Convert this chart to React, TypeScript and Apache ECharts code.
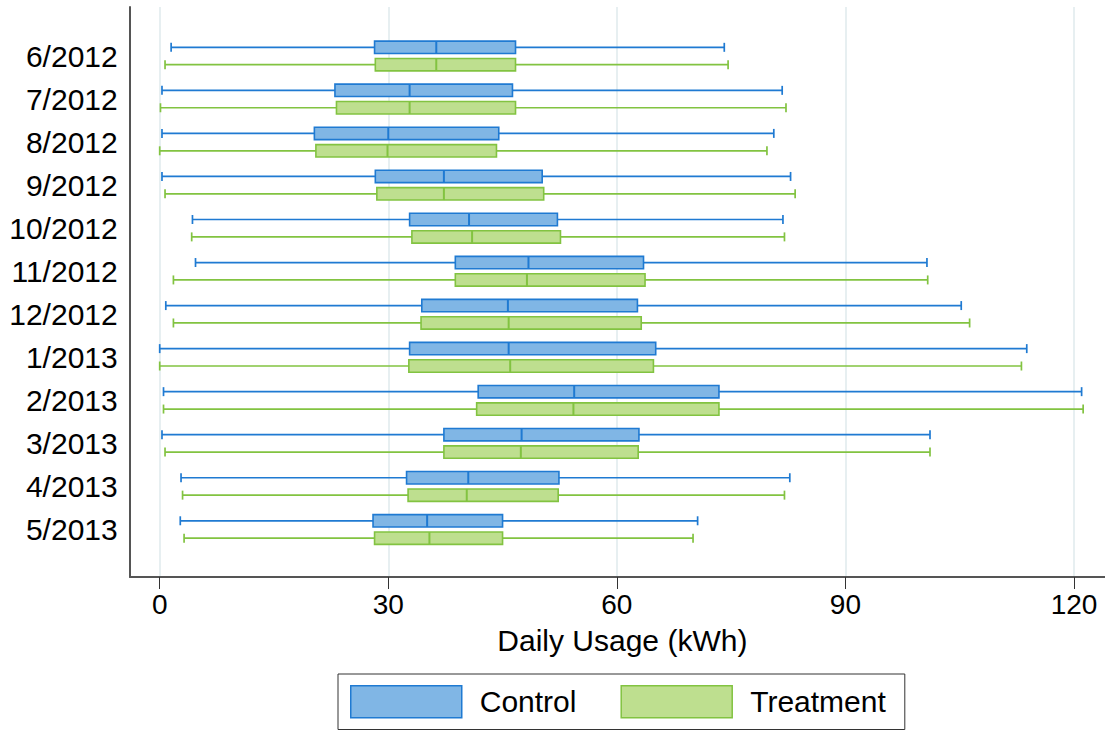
import React, { useEffect, useRef } from 'react';
import * as echarts from 'echarts';

const categories = ['6/2012', '7/2012', '8/2012', '9/2012', '10/2012', '11/2012', '12/2012', '1/2013', '2/2013', '3/2013', '4/2013', '5/2013'];
const xTicks = [0, 30, 60, 90, 120];

const controlMin = [1.5, 0.3, 0.3, 0.3, 4.3, 4.7, 0.8, 0.0, 0.5, 0.3, 2.8, 2.7];
const controlQ1 = [28.2, 23.0, 20.3, 28.3, 32.8, 38.8, 34.4, 32.8, 41.8, 37.3, 32.4, 28.0];
const controlMedian = [36.3, 32.8, 30.0, 37.3, 40.6, 48.4, 45.7, 45.8, 54.4, 47.5, 40.5, 35.1];
const controlQ3 = [46.7, 46.3, 44.5, 50.2, 52.2, 63.5, 62.7, 65.1, 73.4, 62.9, 52.4, 45.0];
const controlMax = [74.1, 81.7, 80.6, 82.8, 81.8, 100.7, 105.2, 113.8, 121.0, 101.1, 82.7, 70.6];

const treatmentMin = [0.7, 0.1, 0.0, 0.7, 4.2, 1.8, 1.8, 0.0, 0.5, 0.7, 3.0, 3.2];
const treatmentQ1 = [28.3, 23.2, 20.5, 28.5, 33.1, 38.8, 34.3, 32.7, 41.6, 37.3, 32.6, 28.2];
const treatmentMedian = [36.3, 32.8, 29.9, 37.3, 41.0, 48.2, 45.8, 46.0, 54.3, 47.4, 40.3, 35.4];
const treatmentQ3 = [46.7, 46.7, 44.2, 50.4, 52.6, 63.7, 63.2, 64.8, 73.4, 62.8, 52.3, 45.0];
const treatmentMax = [74.6, 82.2, 79.7, 83.4, 82.0, 100.8, 106.3, 113.1, 121.2, 101.1, 82.0, 70.0];

const FONT = "'Liberation Sans', Arial, sans-serif";
const BLUE_FILL = '#80B6E5';
const BLUE_LINE = '#1F7AD2';
const GREEN_FILL = '#BEDF8F';
const GREEN_LINE = '#82C341';

function buildRows(mn: number[], q1: number[], md: number[], q3: number[], mx: number[]) {
  return categories.map((_, i) => [i, mn[i], q1[i], md[i], q3[i], mx[i]]);
}

function makeRenderItem(offset: number, fill: string, stroke: string) {
  return (params: any, api: any) => {
    const cat = api.value(0);
    const pMin = api.coord([api.value(1), cat]);
    const pQ1 = api.coord([api.value(2), cat]);
    const pMed = api.coord([api.value(3), cat]);
    const pQ3 = api.coord([api.value(4), cat]);
    const pMax = api.coord([api.value(5), cat]);
    const cy = pMin[1] + offset;
    const hb = 6.2;
    const hc = 4.5;
    const ls = { stroke, lineWidth: 1.7 };
    return {
      type: 'group',
      children: [
        { type: 'line', shape: { x1: pMin[0], y1: cy, x2: pMax[0], y2: cy }, style: ls },
        { type: 'line', shape: { x1: pMin[0], y1: cy - hc, x2: pMin[0], y2: cy + hc }, style: ls },
        { type: 'line', shape: { x1: pMax[0], y1: cy - hc, x2: pMax[0], y2: cy + hc }, style: ls },
        {
          type: 'rect',
          shape: { x: pQ1[0], y: cy - hb, width: pQ3[0] - pQ1[0], height: 2 * hb },
          style: { fill, stroke, lineWidth: 1.6 },
        },
        { type: 'line', shape: { x1: pMed[0], y1: cy - hb, x2: pMed[0], y2: cy + hb }, style: { stroke, lineWidth: 2 } },
      ],
    };
  };
}

export default function App() {
  const ref = useRef<HTMLDivElement>(null);
  useEffect(() => {
    if (!ref.current) return;
    const chart = echarts.init(ref.current, null, { renderer: 'svg' });
    const axisLineStyle = { color: '#555555', width: 2 };
    const option: any = {
      animation: false,
      backgroundColor: '#ffffff',
      textStyle: { fontFamily: FONT },
      grid: [
        { left: 130, right: 0, top: 7, bottom: 153 },
        { left: 159.7, right: 31, top: 7, bottom: 153 },
        { left: 159.7, right: 31, top: 34.5, bottom: 179 },
      ],
      xAxis: [
        {
          gridIndex: 0, type: 'value', min: 0, max: 1,
          axisLine: { show: true, onZero: false, lineStyle: axisLineStyle },
          axisTick: { show: false }, axisLabel: { show: false }, splitLine: { show: false },
        },
        {
          gridIndex: 1, type: 'value', min: xTicks[0], max: xTicks[xTicks.length - 1], interval: 30,
          axisLine: { show: false },
          axisTick: { show: true, length: 12, lineStyle: { color: '#333333', width: 1 } },
          axisLabel: { fontSize: 28, color: '#000000', margin: 13, fontFamily: FONT },
          splitLine: { show: true, lineStyle: { color: '#E7EFF1', width: 2 } },
          name: 'Daily Usage (kWh)', nameLocation: 'middle', nameGap: 48,
          nameTextStyle: { fontSize: 30, color: '#000000', fontFamily: FONT, padding: [0, 0, 0, 11] },
        },
        { gridIndex: 2, type: 'value', min: 0, max: 120, show: false },
      ],
      yAxis: [
        {
          gridIndex: 0, type: 'value', min: 0, max: 1,
          axisLine: { show: true, onZero: false, lineStyle: axisLineStyle },
          axisTick: { show: false }, axisLabel: { show: false }, splitLine: { show: false },
        },
        { gridIndex: 1, type: 'value', show: false },
        {
          gridIndex: 2, type: 'category', data: categories, inverse: true,
          axisLine: { show: false }, axisTick: { show: false }, splitLine: { show: false },
          axisLabel: { fontSize: 30, color: '#000000', margin: 42, fontFamily: FONT },
        },
      ],
      legend: {
        left: 338, top: 674,
        orient: 'horizontal',
        padding: [11, 19, 11, 12],
        itemWidth: 111, itemHeight: 32, itemGap: 44,
        borderColor: '#333333', borderWidth: 1,
        textStyle: { fontSize: 30, color: '#000000', fontFamily: FONT, padding: [0, 0, 0, 13] },
        data: [
          { name: 'Control', icon: 'rect', itemStyle: { color: BLUE_FILL, borderColor: BLUE_LINE, borderWidth: 1.5 } },
          { name: 'Treatment', icon: 'rect', itemStyle: { color: GREEN_FILL, borderColor: GREEN_LINE, borderWidth: 1.5 } },
        ],
      },
      series: [
        {
          name: 'Control', type: 'custom', xAxisIndex: 2, yAxisIndex: 2,
          encode: { x: [1, 2, 3, 4, 5], y: 0 },
          itemStyle: { color: BLUE_FILL, borderColor: BLUE_LINE },
          renderItem: makeRenderItem(-8.7, BLUE_FILL, BLUE_LINE),
          data: buildRows(controlMin, controlQ1, controlMedian, controlQ3, controlMax),
        },
        {
          name: 'Treatment', type: 'custom', xAxisIndex: 2, yAxisIndex: 2,
          encode: { x: [1, 2, 3, 4, 5], y: 0 },
          itemStyle: { color: GREEN_FILL, borderColor: GREEN_LINE },
          renderItem: makeRenderItem(8.7, GREEN_FILL, GREEN_LINE),
          data: buildRows(treatmentMin, treatmentQ1, treatmentMedian, treatmentQ3, treatmentMax),
        },
      ],
    };
    chart.setOption(option);
    return () => chart.dispose();
  }, []);
  return <div ref={ref} style={{ position: 'absolute', left: 0, top: 0, width: 1105, height: 730 }} />;
}
